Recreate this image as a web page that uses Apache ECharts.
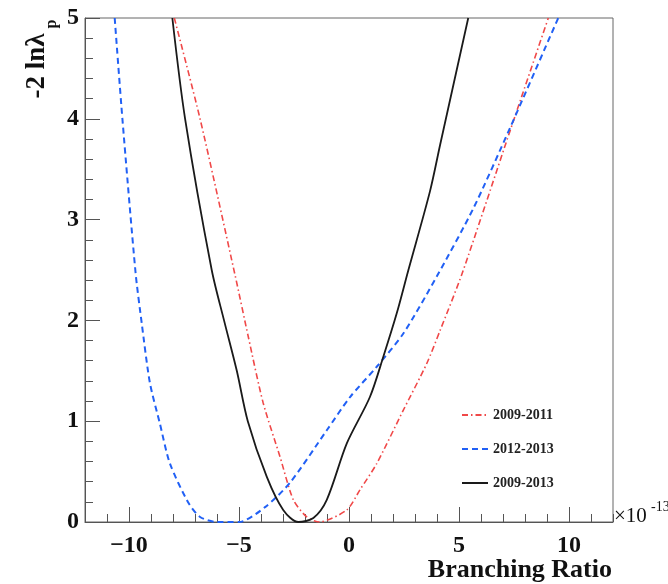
<!DOCTYPE html>
<html>
<head>
<meta charset="utf-8">
<script src="https://cdn.jsdelivr.net/npm/echarts@6/dist/echarts.min.js"></script>
<style>
  html, body { margin: 0; padding: 0; background: #fff; }
  #main { width: 668px; height: 584px; }
</style>
</head>
<body>
<div id="main"></div>
<script>
// 數據 (x 單位: 1e-13)
const seriesNames = ['2009-2011', '2012-2013', '2009-2013'];

const redX = [-7.94, -6.77, -5.18, -4.58, -3.9, -3.14, -2.53, -1.92, -1.35, -0.1, 0.5, 1.26, 2.47, 3.53, 4.14, 5.15, 7.32, 9.06];
const redY = [5.0, 4.0, 2.45, 1.84, 1.18, 0.65, 0.22, 0.05, 0.0, 0.12, 0.32, 0.58, 1.11, 1.57, 1.9, 2.47, 3.88, 5.0];

const blueX = [-10.65, -10.3, -9.7, -9.42, -9.05, -8.6, -8.14, -7.3, -6.77, -6.0, -5.0, -3.8, -2.68, -1.01, 0.05, 1.26, 2.47, 4.0, 5.65, 7.32, 9.51];
const blueY = [5.0, 4.0, 2.47, 1.97, 1.38, 0.98, 0.58, 0.19, 0.05, 0.0, 0.0, 0.15, 0.39, 0.91, 1.24, 1.54, 1.87, 2.44, 3.11, 3.91, 5.0];

const blackX = [-8.03, -7.45, -6.24, -5.68, -5.1, -4.6, -3.74, -2.99, -2.3, -1.62, -1.01, -0.1, 0.95, 1.56, 2.17, 2.7, 3.68, 4.14, 5.42];
const blackY = [5.0, 4.0, 2.5, 2.0, 1.5, 1.0, 0.45, 0.12, 0.0, 0.04, 0.22, 0.78, 1.24, 1.64, 2.07, 2.5, 3.28, 3.74, 5.0];

const xMajorTicks = [-10, -5, 0, 5, 10];

const serif = '"Liberation Serif", "DejaVu Serif", serif';
const zip = (xs, ys) => xs.map((x, i) => [x, ys[i]]);

const myChart = echarts.init(document.getElementById('main'));

const option = {
    animation: false,
    grid: {
        left: 85, right: 55, top: 18, bottom: 62,
        show: true, borderColor: '#666', borderWidth: 1
    },
    legend: {
        orient: 'vertical',
        left: 456, top: 403,
        itemWidth: 26, itemHeight: 12, itemGap: 20,
        itemStyle: { opacity: 0 },
        textStyle: { fontFamily: serif, fontWeight: 'bold', fontSize: 14, color: '#222' },
        data: seriesNames
    },
    xAxis: [
        {
            type: 'value', min: -12, max: 12, interval: 1,
            splitLine: { show: false },
            axisLine: { onZero: false, lineStyle: { color: '#555' } },
            axisTick: { inside: true, length: 8, lineStyle: { color: '#555' } },
            axisLabel: {
                margin: 12, fontFamily: serif, fontWeight: 'bold', fontSize: 24, color: '#111',
                formatter: v => (v % 5 === 0 ? (v < 0 ? '\u2212' + Math.abs(v) : String(v)) : '')
            }
        },
        {
            type: 'value', min: -12, max: 12, position: 'bottom',
            splitLine: { show: false },
            axisLine: { show: false, onZero: false },
            axisTick: { inside: true, length: 15, customValues: xMajorTicks, lineStyle: { color: '#555' } },
            axisLabel: { show: false }
        }
    ],
    yAxis: {
        type: 'value', min: 0, max: 5, interval: 1,
        splitLine: { show: false },
        axisLine: { onZero: false, lineStyle: { color: '#555' } },
        axisTick: { inside: true, length: 15, lineStyle: { color: '#555' } },
        minorTick: { show: true, splitNumber: 5, length: 8, lineStyle: { color: '#555' } },
        axisLabel: { margin: 6, fontFamily: serif, fontWeight: 'bold', fontSize: 24, color: '#111' }
    },
    series: [
        {
            name: seriesNames[0], type: 'line', data: zip(redX, redY),
            smooth: 0.25, showSymbol: false, symbol: 'none',
            lineStyle: { color: '#f04848', width: 1.6, type: [6, 3, 1.5, 3] },
            itemStyle: { color: '#f04848' }
        },
        {
            name: seriesNames[1], type: 'line', data: zip(blueX, blueY),
            smooth: 0.25, showSymbol: false, symbol: 'none',
            lineStyle: { color: '#2160f5', width: 2, type: [6, 4] },
            itemStyle: { color: '#2160f5' }
        },
        {
            name: seriesNames[2], type: 'line', data: zip(blackX, blackY),
            smooth: 0.3, showSymbol: false, symbol: 'none',
            lineStyle: { color: '#1a1a1a', width: 1.8 },
            itemStyle: { color: '#1a1a1a' }
        }
    ],
    graphic: [
        {
            type: 'text', x: 37, y: 66, rotation: Math.PI / 2,
            style: {
                text: '-2 ln\u03bb', fill: '#111', font: 'bold 27px ' + serif,
                textAlign: 'center', textVerticalAlign: 'middle'
            }
        },
        {
            type: 'text', x: 52, y: 24, rotation: Math.PI / 2,
            style: {
                text: 'p', fill: '#111', font: 'bold 16px ' + serif,
                textAlign: 'center', textVerticalAlign: 'middle'
            }
        },
        {
            type: 'text', x: 614, y: 516,
            style: {
                text: '\u00d710', fill: '#111', font: '21px ' + serif,
                textAlign: 'left', textVerticalAlign: 'middle'
            }
        },
        {
            type: 'text', x: 651, y: 507,
            style: {
                text: '-13', fill: '#111', font: '14px ' + serif,
                textAlign: 'left', textVerticalAlign: 'middle'
            }
        },
        {
            type: 'text', x: 612, y: 570,
            style: {
                text: 'Branching Ratio', fill: '#111', font: 'bold 26px ' + serif,
                textAlign: 'right', textVerticalAlign: 'middle'
            }
        }
    ]
};

myChart.setOption(option);
</script>
</body>
</html>
